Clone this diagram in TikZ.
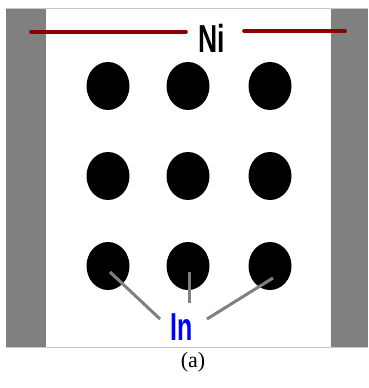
\documentclass[tikz,border=0pt]{standalone}
\usepackage{fontspec}
\setmainfont{Liberation Serif}
\newfontfamily\arialf{Liberation Sans}
\definecolor{barg}{RGB}{128,128,128}
\definecolor{edgeg}{RGB}{200,200,200}
\definecolor{nired}{RGB}{139,0,0}
\definecolor{leadg}{RGB}{128,128,128}
\definecolor{inblue}{RGB}{0,0,255}
\begin{document}
\begin{tikzpicture}[x=1pt,y=-1pt,
  dot/.style={ellipse,fill=black,minimum width=43pt,minimum height=48pt,inner sep=0pt},
  redline/.style={draw=nired,line width=3.6pt,line cap=round},
  leader/.style={draw=leadg,line width=3pt},
  lbl/.style={inner sep=0pt,font=\arialf\bfseries\fontsize{39}{39}\selectfont}]
\usetikzlibrary{shapes.geometric}
\useasboundingbox (0,0) rectangle (368,388);
\fill[white] (0,0) rectangle (368,388);
% frame
\fill[barg] (6,8) rectangle (46,347);
\fill[barg] (331,8) rectangle (368,347);
\draw[edgeg,line width=1pt] (6,8.5) -- (368,8.5);
\draw[edgeg,line width=1pt] (6,347.5) -- (368,347.5);
% Ni label and lines
\node[lbl,xscale=0.68] (ni) at (212,38) {Ni};
\coordinate (l1) at (31,32);
\coordinate (l2) at (186,32);
\coordinate (r1) at (244,31);
\coordinate (r2) at (345,31);
\draw[redline] (l1) -- (l2);
\draw[redline] (r1) -- (r2);
% dots
\foreach \r/\y in {1/86,2/176,3/266}{
  \node[dot] (d\r1) at (108,\y) {};
  \node[dot] (d\r2) at (188,\y) {};
  \node[dot] (d\r3) at (270,\y) {};
}
% In label
\node[lbl,xscale=0.64,text=inblue] (in) at (182,327) {In};
\coordinate (e1) at (160,319);
\coordinate (e2) at (189,303);
\coordinate (e3) at (207,319);
\coordinate (s1) at (110,272);
\coordinate (s2) at (189,272);
\coordinate (s3) at (273,278);
\draw[leader] (s1) -- (e1);
\draw[leader] (s2) -- (e2);
\draw[leader] (s3) -- (e3);
% caption
\node[inner sep=0pt,font=\fontsize{22}{22}\selectfont] (cap) at (193,362) {(a)};
\end{tikzpicture}
\end{document}
